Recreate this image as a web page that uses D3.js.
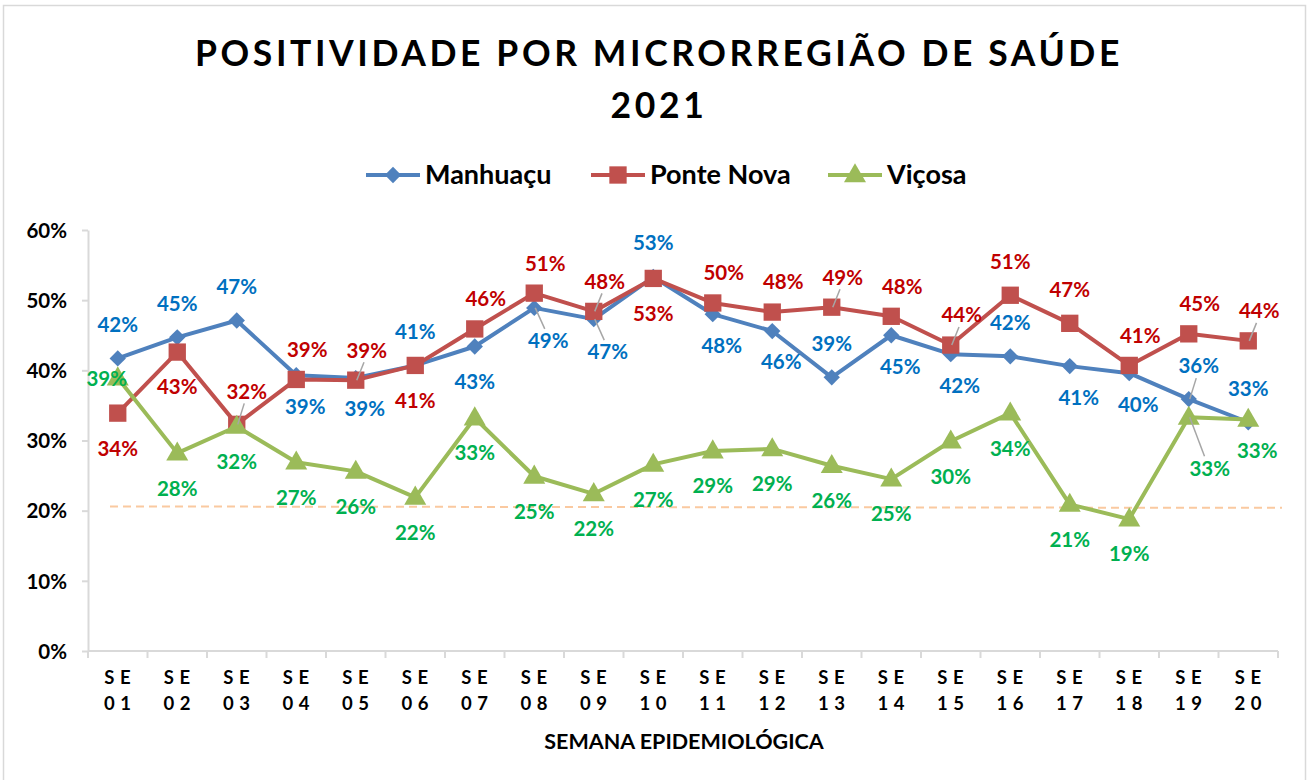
<!DOCTYPE html>
<html>
<head>
<meta charset="utf-8">
<script src="https://cdn.jsdelivr.net/npm/d3@7"></script>
<style>
  body { margin: 0; background: #fff; }
  text { font-family: Lato, "Open Sans", sans-serif; font-weight: bold; }
</style>
</head>
<body>
<svg id="chart" width="1312" height="780"></svg>
<script>
// data
var weeks = ["01","02","03","04","05","06","07","08","09","10",
             "11","12","13","14","15","16","17","18","19","20"];
var manhuacu  = [41.7,44.7,47.1,39.3,38.9,40.7,43.4,48.9,47.3,53.3,48.0,45.6,39.0,45.0,42.3,42.0,40.6,39.6,35.9,32.6];
var ponteNova = [33.9,42.6,32.3,38.7,38.6,40.7,45.9,51.0,48.4,53.1,49.6,48.3,49.0,47.7,43.6,50.7,46.7,40.7,45.2,44.2];
var vicosa    = [38.9,28.2,32.0,26.9,25.6,21.9,33.2,24.9,22.4,26.6,28.5,28.8,26.4,24.5,29.9,33.9,20.9,18.8,33.3,33.0];
var refLine   = [20.6, 20.4];
var yTicks    = [0, 10, 20, 30, 40, 50, 60];

// label placement codes (a=above, b=below, 2=shift right, r=right with leader, l=left)
var posManhuacu  = ["a","a","a","b2","b2","a","b","brL","brL","a","b2","b2","a","b2","b2","a","b2","b2","arL","a"];
var posPonteNova = ["b","b","arL","a2","a2L","b","a2","a2","a2L","b","a2","a2","a2L","a2","a2L","a","a","a2","a2","a2L"];
var posVicosa    = ["l","b","b","b","b","b","b","b","b","b","b","b","b","b","b","b","b","b","brL2","b2"];

var svg = d3.select("#chart");

// frame
svg.append("rect")
    .attr("x", 3.5).attr("y", 5.5)
    .attr("width", 1302).attr("height", 790)
    .attr("fill", "none").attr("stroke", "#d9d9d9").attr("stroke-width", 1.5);

var x = d3.scaleBand().domain(weeks).range([88, 1278]);
var y = d3.scaleLinear().domain([0, 60]).range([651, 230]);
var cx = d => x(d) + x.bandwidth() / 2;

// title
var title = svg.append("text")
    .attr("x", 656).attr("y", 66)
    .attr("text-anchor", "middle")
    .style("font-size", "35.5px")
    .style("letter-spacing", "3.6px")
    .attr("fill", "#000");
title.append("tspan").attr("x", 659).text("POSITIVIDADE POR MICRORREGIÃO DE SAÚDE");
title.append("tspan").attr("x", 659).attr("dy", 52).text("2021");

// y axis
var yAxis = d3.axisLeft(y)
    .tickValues(yTicks)
    .tickFormat(d => d + "%")
    .tickSize(6).tickSizeOuter(0).tickPadding(15);
var gy = svg.append("g").attr("transform", "translate(88,0)").call(yAxis);
gy.select(".domain").attr("stroke", "#d9d9d9").attr("stroke-width", 2);
gy.selectAll(".tick line").attr("stroke", "#d9d9d9").attr("stroke-width", 2);
gy.selectAll(".tick text")
    .style("font-size", "20.5px").style("font-family", "Lato, sans-serif")
    .attr("fill", "#000").attr("dy", "0.35em");

// x axis
svg.append("line")
    .attr("x1", 88).attr("x2", 1278).attr("y1", 651).attr("y2", 651)
    .attr("stroke", "#d9d9d9").attr("stroke-width", 2);
svg.selectAll(".xtick")
    .data(weeks.concat(["end"]))
    .enter().append("line")
    .attr("class", "xtick")
    .attr("x1", (d, i) => i < weeks.length ? x(d) : 1278)
    .attr("x2", (d, i) => i < weeks.length ? x(d) : 1278)
    .attr("y1", 651).attr("y2", 658)
    .attr("stroke", "#d9d9d9").attr("stroke-width", 2);

var xl = svg.selectAll(".xlab")
    .data(weeks)
    .enter().append("text")
    .attr("class", "xlab")
    .attr("text-anchor", "middle")
    .style("font-size", "18.5px")
    .style("letter-spacing", "5.5px")
    .attr("fill", "#000");
xl.append("tspan").attr("x", d => cx(d) + 2.5).attr("y", 684).text("SE");
xl.append("tspan").attr("x", d => cx(d) + 2.5).attr("y", 710).text(d => d);

svg.append("text")
    .attr("x", 684).attr("y", 749)
    .attr("text-anchor", "middle")
    .style("font-size", "21.5px")
    .attr("fill", "#000")
    .text("SEMANA EPIDEMIOLÓGICA");

// reference line
svg.append("line")
    .attr("x1", 110).attr("x2", 1282)
    .attr("y1", y(refLine[0])).attr("y2", y(refLine[1]))
    .attr("stroke", "#FAC9A0").attr("stroke-width", 2)
    .attr("stroke-dasharray", "8,5");

var series = [
    { name: "Manhuaçu",   values: manhuacu,  pos: posManhuacu,  line: "#4F81BD", label: "#0070C0", symbol: d3.symbolDiamond2, size: 170 },
    { name: "Ponte Nova", values: ponteNova, pos: posPonteNova, line: "#C0504D", label: "#C00000", symbol: d3.symbolSquare,  size: 300 },
    { name: "Viçosa",     values: vicosa,    pos: posVicosa,    line: "#9BBB59", label: "#00B050", symbol: d3.symbolTriangle, size: 210 }
];

var offsets = {
    a:  [0, -34], a2: [11, -30], b: [0, 35], b2: [9, 31],
    ar: [10, -33], br: [14, 33], br2: [21, 51], l: [-11, 1]
};

var line = d3.line().x((d, i) => cx(weeks[i])).y(d => y(d));

series.forEach(function (s) {
    svg.append("path")
        .datum(s.values)
        .attr("d", line)
        .attr("fill", "none")
        .attr("stroke", s.line)
        .attr("stroke-width", 4)
        .attr("stroke-linejoin", "round");

    svg.selectAll(null)
        .data(s.values)
        .enter().append("path")
        .attr("d", d3.symbol().type(s.symbol).size(s.size))
        .attr("transform", (d, i) => `translate(${cx(weeks[i])},${y(d) + (s.symbol === d3.symbolTriangle ? 1 : 0)})`)
        .attr("fill", s.line);
});

// data labels (drawn after all lines)
series.forEach(function (s) {
    s.values.forEach(function (v, i) {
        var code = s.pos[i];
        var leader = code.indexOf("L") >= 0;
        var key = code.replace("L", "");
        var off = offsets[key];
        var px = cx(weeks[i]), py = y(v);
        var lx = px + off[0], ly = py + off[1];
        if (leader) {
            var dir = off[1] < 0 ? -1 : 1;
            svg.append("line")
                .attr("x1", px + 1).attr("y1", py)
                .attr("x2", px + off[0] * 0.75).attr("y2", ly - dir * 12)
                .attr("stroke", "#A6A6A6").attr("stroke-width", 1.5);
        }
        svg.append("text")
            .attr("x", lx).attr("y", ly)
            .attr("dy", "0.36em")
            .attr("text-anchor", "middle")
            .style("font-size", "20.5px")
            .attr("fill", s.label)
            .text(Math.round(v) + "%");
    });
});

// legend
var legendX = [366, 591, 828];
series.forEach(function (s, i) {
    var g = svg.append("g").attr("transform", `translate(${legendX[i]},175)`);
    g.append("line").attr("x1", 0).attr("x2", 54).attr("stroke", s.line).attr("stroke-width", 4);
    g.append("path")
        .attr("d", d3.symbol().type(s.symbol).size(s.size))
        .attr("transform", `translate(27,${s.symbol === d3.symbolTriangle ? 1 : 0})`)
        .attr("fill", s.line);
    g.append("text")
        .attr("x", 59).attr("dy", "0.35em")
        .style("font-size", "27px")
        .attr("fill", "#000")
        .text(s.name);
});
</script>
</body>
</html>
